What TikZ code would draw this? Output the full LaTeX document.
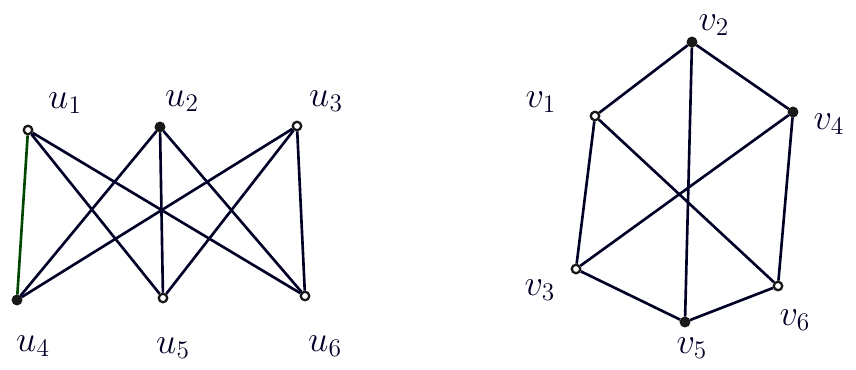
\documentclass[tikz,border=0pt]{standalone}
\usetikzlibrary{positioning}

\begin{document}
\begin{tikzpicture}[x=0.02cm, y=-0.02cm]
    \tikzset{vert/.style={circle, draw=black!90, fill=white, line width=1.3pt, minimum size=0.17cm, inner sep=0pt}}
    \tikzset{fullvert/.style={vert, fill=black!90}}
    \tikzset{lab/.style={font=\huge, inner sep=0pt, text=black!85!blue}}
    \tikzset{edge/.style={line width=1.5pt, black!85!blue}}
    \useasboundingbox (0,0) rectangle (856,369);

    % LEFT GRAPH NODES
    \foreach \n/\x/\y/\lx/\ly/\st in {1/28/130/65/103/vert, 2/160/127/182/101/fullvert, 3/297/126/326/101/vert,
                                   4/17/300/33/346/fullvert, 5/163/298/173/348/vert, 6/305/296/325/346/vert} {
        \node[\st] (u\n) at (\x,\y) {};
        \node[lab] (lu\n) at (\lx,\ly) {$u_{\n}$};
    }

    % LEFT GRAPH EDGES
    \draw[edge, black!60!green!70!black] (u1)--(u4);
    \draw[edge] (u1)--(u5) (u1)--(u6);
    \foreach \a in {2,3} {
        \foreach \b in {4,5,6} {
            \draw[edge] (u\a)--(u\b);
        }
    }

    % RIGHT GRAPH NODES
    \foreach \n/\x/\y/\lx/\ly/\st in {1/595/116/541/102/vert, 2/692/42/714/25/fullvert, 3/576/269/540/290/vert,
                                   4/793/112/829/124/fullvert, 5/685/322/692/348/fullvert, 6/778/286/795/320/vert} {
        \node[\st] (v\n) at (\x,\y) {};
        \node[lab] (lv\n) at (\lx,\ly) {$v_{\n}$};
    }

    % RIGHT GRAPH EDGES
    \draw[edge] (v1)--(v2)--(v4)--(v6)--(v5)--(v3)--(v1);
    \draw[edge] (v1)--(v6) (v4)--(v3) (v2)--(v5);
\end{tikzpicture}
\end{document}
